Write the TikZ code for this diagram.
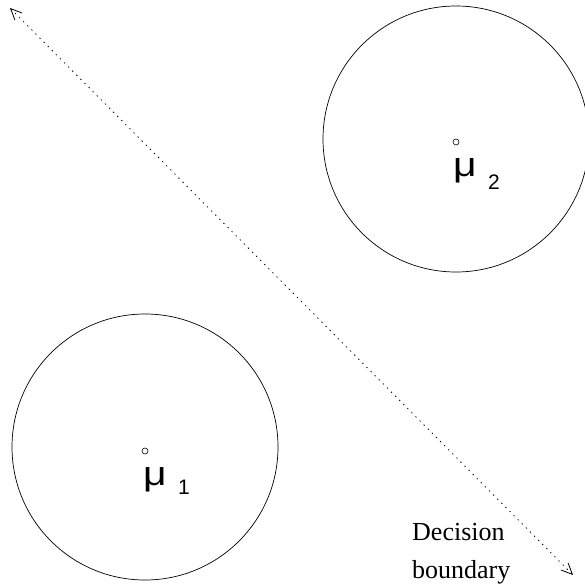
\documentclass[tikz,border=0pt]{standalone}
\usepackage{fontspec}
\setmainfont{Liberation Serif}
\newfontfamily\lsans{Liberation Sans}
\usetikzlibrary{arrows.meta}
\newcommand{\widemu}{\scalebox{1.2}[1]{μ}}
\begin{document}
\begin{tikzpicture}[x=1pt,y=-1pt,
  cluster/.style={draw,line width=0.7pt},
  meanpt/.style={draw,circle,inner sep=0pt,minimum size=6pt,line width=0.6pt},
  mulabel/.style={font=\lsans\fontsize{34}{34}\selectfont,inner sep=0pt,anchor=base west},
  sublabel/.style={font=\lsans\fontsize{21}{21}\selectfont,inner sep=0pt,anchor=base west},
  txt/.style={font=\fontsize{26}{26}\selectfont,inner sep=0pt,anchor=base west}]
\useasboundingbox (0,0) rectangle (584,586);
\draw[cluster] (456,139) circle (133);
\draw[cluster] (145,447) circle (133);
\node[meanpt] (m2) at (456,142) {};
\node[mulabel] (mu2) at (453,176) {\widemu};
\node[sublabel] (s2) at (488,189) {2};
\node[meanpt] (m1) at (145,451) {};
\node[mulabel] (mu1) at (143,485) {\widemu};
\node[sublabel] (s1) at (178,494) {1};
\coordinate (a) at (10,8);
\coordinate (b) at (573,575);
\draw[dash pattern=on 1.3pt off 4.5pt,line width=0.8pt,{Straight Barb[length=11pt,width=10pt]}-{Straight Barb[length=11pt,width=10pt]}] (a) -- (b);
\node[txt] (d1) at (412,540) {Decision};
\node[txt] (d2) at (412,578) {boundary};
\end{tikzpicture}
\end{document}
